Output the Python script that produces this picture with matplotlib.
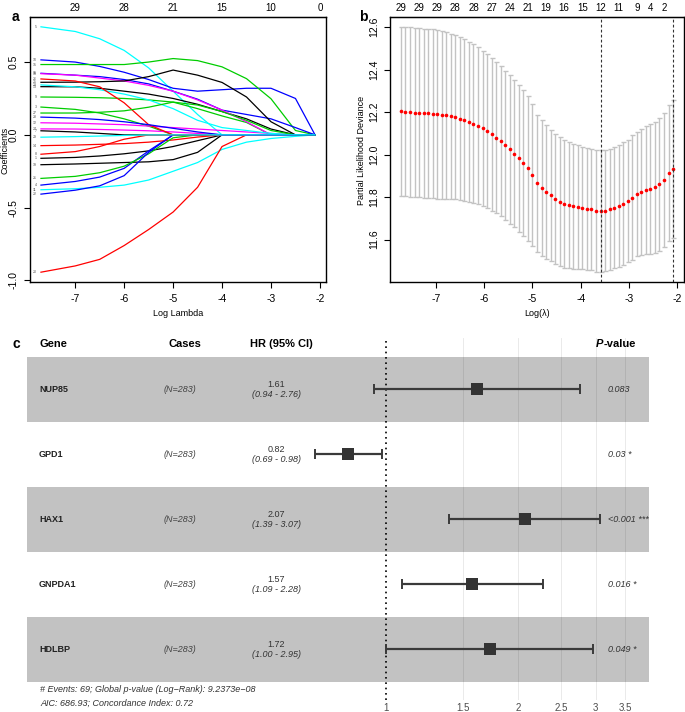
import numpy as np
import matplotlib.pyplot as plt
from matplotlib import transforms

plt.rcParams['font.family'] = ['Liberation Sans', 'DejaVu Sans']

W, H = 685, 712

# ---------------- panel a: lasso coefficient paths ----------------
knots = [-7.7, -7.0, -6.5, -6.0, -5.5, -5.0, -4.5, -4.0, -3.5, -3.0, -2.5, -2.1]
path_labels = [5, 10, 15, 16, 18, 26, 25, 23, 13, 9, 3, 27, 28, 12, 24, 7, 29,
               14, 8, 1, 19, 21, 4, 11, 22, 20]
coef_paths = [
    [0.742, 0.71, 0.66, 0.58, 0.46, 0.30, 0.14, 0.0, 0, 0, 0, 0],
    [0.515, 0.50, 0.47, 0.43, 0.38, 0.32, 0.30, 0.31, 0.32, 0.32, 0.25, 0.0],
    [0.483, 0.483, 0.483, 0.483, 0.50, 0.524, 0.51, 0.467, 0.386, 0.248, 0.03, 0.0],
    [0.423, 0.41, 0.40, 0.38, 0.35, 0.30, 0.245, 0.17, 0.14, 0.11, 0.05, 0.0],
    [0.42, 0.41, 0.39, 0.37, 0.34, 0.30, 0.24, 0.17, 0.09, 0.0, 0, 0],
    [0.384, 0.37, 0.33, 0.22, 0.07, 0.0, 0, 0, 0, 0, 0, 0],
    [0.361, 0.362, 0.365, 0.37, 0.40, 0.445, 0.41, 0.36, 0.26, 0.09, 0.0, 0],
    [0.343, 0.33, 0.31, 0.28, 0.24, 0.18, 0.10, 0.05, 0.03, 0.01, 0.0, 0],
    [0.331, 0.33, 0.32, 0.30, 0.28, 0.25, 0.21, 0.16, 0.11, 0.04, 0.0, 0],
    [0.26, 0.258, 0.255, 0.25, 0.24, 0.225, 0.18, 0.13, 0.085, 0.0, 0, 0],
    [0.191, 0.175, 0.15, 0.11, 0.06, 0.0, 0, 0, 0, 0, 0, 0],
    [0.15, 0.15, 0.155, 0.165, 0.19, 0.225, 0.205, 0.16, 0.10, 0.03, 0.0, 0],
    [0.122, 0.115, 0.105, 0.09, 0.07, 0.045, 0.02, 0.0, 0, 0, 0, 0],
    [0.083, 0.08, 0.075, 0.07, 0.06, 0.05, 0.04, 0.03, 0.02, 0.01, 0.0, 0],
    [0.041, 0.04, 0.037, 0.033, 0.028, 0.02, 0.01, 0.0, 0, 0, 0, 0],
    [0.028, 0.02, 0.01, 0.0, 0, 0, 0, 0, 0, 0, 0, 0],
    [-0.016, -0.012, -0.008, -0.004, 0.0, 0, 0, 0, 0, 0, 0, 0],
    [-0.074, -0.07, -0.065, -0.06, -0.05, -0.035, -0.015, 0.0, 0, 0, 0, 0],
    [-0.133, -0.115, -0.08, -0.03, 0.0, 0, 0, 0, 0, 0, 0, 0],
    [-0.161, -0.155, -0.145, -0.13, -0.11, -0.08, -0.04, 0.0, 0, 0, 0, 0],
    [-0.205, -0.20, -0.195, -0.19, -0.185, -0.17, -0.12, 0.0, 0, 0, 0, 0],
    [-0.299, -0.285, -0.26, -0.215, -0.13, -0.02, 0.0, 0, 0, 0, 0, 0],
    [-0.345, -0.32, -0.29, -0.23, -0.11, 0.0, 0, 0, 0, 0, 0, 0],
    [-0.377, -0.37, -0.36, -0.345, -0.31, -0.25, -0.19, -0.10, -0.05, -0.025, -0.01, 0.0],
    [-0.407, -0.38, -0.35, -0.28, -0.12, 0.0, 0, 0, 0, 0, 0, 0],
    [-0.943, -0.90, -0.855, -0.76, -0.65, -0.53, -0.36, -0.08, 0.0, 0, 0, 0],
]
a_ticks = [-7, -6, -5, -4, -3, -2]
a_top = [29, 28, 21, 15, 10, 0]

# ---------------- panel b: cross-validation curve ----------------
loglam = np.linspace(-7.72, -2.09, 61)   # glmnet lambda path (log-spaced)
cvm = [12.203, 12.202, 12.200, 12.198, 12.197, 12.195, 12.194, 12.192, 12.190, 12.187,
       12.184, 12.180, 12.175, 12.169, 12.162, 12.154, 12.145, 12.135, 12.124, 12.112,
       12.096, 12.080, 12.063, 12.044, 12.025, 12.005, 11.983, 11.959, 11.935, 11.903,
       11.865, 11.843, 11.825, 11.808, 11.792, 11.778, 11.769, 11.762, 11.757, 11.753,
       11.750, 11.745, 11.742, 11.737, 11.734, 11.737, 11.743, 11.751, 11.759, 11.770,
       11.781, 11.797, 11.814, 11.825, 11.833, 11.838, 11.846, 11.860, 11.882, 11.912,
       11.934]
cvsd = [0.398, 0.398, 0.398, 0.398, 0.398, 0.398, 0.398, 0.398, 0.397, 0.395,
        0.392, 0.389, 0.386, 0.383, 0.380, 0.376, 0.373, 0.369, 0.365, 0.361,
        0.359, 0.356, 0.354, 0.351, 0.350, 0.346, 0.345, 0.343, 0.340, 0.334,
        0.323, 0.321, 0.315, 0.310, 0.307, 0.304, 0.301, 0.296, 0.293, 0.290,
        0.287, 0.287, 0.285, 0.287, 0.287, 0.285, 0.285, 0.285, 0.287, 0.288,
        0.288, 0.293, 0.291, 0.296, 0.301, 0.306, 0.307, 0.312, 0.315, 0.320,
        0.324]
idx_min, idx_1se = 44, 60
top_idx = [0, 4, 8, 12, 16, 20, 24, 28, 32, 36, 40, 44, 48, 52, 55, 58]
top_nz = [29, 29, 29, 28, 28, 27, 24, 21, 19, 16, 15, 12, 11, 9, 4, 2]

# ---------------- panel c: forest plot ----------------
genes = ['NUP85', 'GPD1', 'HAX1', 'GNPDA1', 'HDLBP']
cases = [283, 283, 283, 283, 283]
hr = [1.61, 0.82, 2.07, 1.57, 1.72]
hr_lo = [0.94, 0.69, 1.39, 1.09, 1.00]
hr_hi = [2.76, 0.98, 3.07, 2.28, 2.95]
pvals = ['0.083', '0.03 *', '<0.001 ***', '0.016 *', '0.049 *']
hr_breaks = [1, 1.5, 2, 2.5, 3, 3.5]
foot = ['# Events: 69; Global p-value (Log\u2212Rank): 9.2373e\u221208',
        'AIC: 686.93; Concordance Index: 0.72']

r_cols = ['black', 'red', '#00CD00', 'blue', 'cyan', 'magenta']


def fx(px):
    return px / W


def fy(py):
    return 1 - py / H


def r_box(ax):
    for s in ax.spines.values():
        s.set_linewidth(1.0)
        s.set_color('black')
    ax.tick_params(axis='both', direction='out', length=4, width=0.8,
                   labelsize=7.5, colors='black')
    ax.tick_params(axis='x', pad=4.5)
    ax.tick_params(axis='y', pad=4, labelrotation=90)
    for lab in ax.get_yticklabels():
        lab.set_va('center')


fig = plt.figure(figsize=(W / 100, H / 100), dpi=100)

# ---- a ----
ax_a = fig.add_axes([fx(30), fy(282), fx(296), 265 / H])
order = np.argsort(path_labels)
for i in order:
    lab = path_labels[i]
    ax_a.plot(knots, coef_paths[i], color=r_cols[(lab - 1) % 6], lw=0.9)
    ax_a.annotate(str(lab), (knots[0], coef_paths[i][0]), xytext=(-3, 0),
                  textcoords='offset points', ha='right', va='center',
                  fontsize=2.6, color='#555555')
ax_a.margins(x=0.04, y=0.04)
ax_a.set_xticks(a_ticks)
ax_a.set_yticks([-1.0, -0.5, 0.0, 0.5])
ax_a.set_yticklabels(['-1.0', '-0.5', '0.0', '0.5'])
ax_a.set_xticklabels([str(t) for t in a_ticks])
r_box(ax_a)
top_a = ax_a.secondary_xaxis('top')
top_a.set_xticks(a_ticks)
top_a.set_xticklabels([str(v) for v in a_top])
top_a.tick_params(length=0, labelsize=7, pad=3)
fig.text(fx(178), fy(314), 'Log Lambda', ha='center', va='center', fontsize=6.5)
fig.text(fx(5), fy(150), 'Coefficients', ha='center', va='center',
         rotation=90, fontsize=6.5)
fig.text(fx(15), fy(17), 'a', ha='center', va='center', fontsize=10,
         fontweight='bold')

# ---- b ----
ax_b = fig.add_axes([fx(390), fy(282), fx(294), 265 / H])
cvm_arr = np.array(cvm)
ax_b.errorbar(loglam, cvm_arr, yerr=cvsd, fmt='none', ecolor='#C3C3C3',
              elinewidth=1.0, capsize=1.8, capthick=1.0)
ax_b.plot(loglam, cvm_arr, 'o', color='red', ms=2.6, mew=0)
ax_b.axvline(loglam[idx_min], color='#333333', lw=0.8, ls=(0, (2.5, 2)))
ax_b.axvline(loglam[idx_1se], color='#333333', lw=0.8, ls=(0, (2.5, 2)))
ax_b.margins(x=0.04, y=0.04)
ax_b.set_xticks(a_ticks)
ax_b.set_xticklabels([str(t) for t in a_ticks])
ax_b.set_yticks([11.6, 11.8, 12.0, 12.2, 12.4, 12.6])
ax_b.set_yticklabels(['11.6', '11.8', '12.0', '12.2', '12.4', '12.6'])
r_box(ax_b)
top_b = ax_b.secondary_xaxis('top')
top_b.set_xticks(loglam[top_idx])
top_b.set_xticklabels([str(v) for v in top_nz])
top_b.tick_params(length=0, labelsize=7, pad=3)
fig.text(fx(537), fy(314), 'Log(\u03bb)', ha='center', va='center', fontsize=6.5)
fig.text(fx(362), fy(150), 'Partial Likelihood Deviance', ha='center',
         va='center', rotation=90, fontsize=6.5)
fig.text(fx(363), fy(17), 'b', ha='center', va='center', fontsize=10,
         fontweight='bold')

# ---- c ----
ax_c = fig.add_axes([fx(27), fy(700), fx(622), 362 / H])
ax_c.set_xscale('log')
ax_c.set_xlim(0.1527, 3.963)
ax_c.set_ylim(4.78, -0.79)
for b in hr_breaks[1:]:
    ax_c.axvline(b, color='#E6E6E6', lw=0.6, zorder=0)
rows = np.arange(len(genes))
for r in rows[::2]:
    ax_c.axhspan(r - 0.5, r + 0.5, color='black', alpha=0.24, lw=0, zorder=1)
ax_c.axvline(1, color='black', lw=1.2, ls=(0, (1, 2.2)), zorder=2)
err = [np.array(hr) - np.array(hr_lo), np.array(hr_hi) - np.array(hr)]
ax_c.errorbar(hr, rows, xerr=err, fmt='none', ecolor='#3A3A3A', elinewidth=1.6,
              capsize=3.3, capthick=1.4, zorder=3)
ax_c.plot(hr, rows, 's', color='#333333', ms=8, mew=0, zorder=4)
ax_c.set_xticks(hr_breaks)
ax_c.set_xticklabels([f'{b:g}' for b in hr_breaks])
ax_c.xaxis.set_minor_locator(plt.NullLocator())
ax_c.tick_params(axis='x', length=0, labelsize=7, colors='#4D4D4D', pad=2)
ax_c.set_yticks([])
for s in ax_c.spines.values():
    s.set_visible(False)

tr = transforms.blended_transform_factory(fig.transFigure, ax_c.transData)
for r in rows:
    ax_c.text(fx(39), r, genes[r], transform=tr, ha='left', va='center',
              fontsize=6.5, fontweight='bold', color='#222222')
    ax_c.text(fx(164), r, f'(N={cases[r]})', transform=tr, ha='left',
              va='center', fontsize=6.5, style='italic', color='#444444')
    ax_c.text(fx(276), r - 0.075, f'{hr[r]:.2f}', transform=tr, ha='center',
              va='center', fontsize=6.5, color='#333333')
    ax_c.text(fx(276), r + 0.075, f'({hr_lo[r]:.2f} - {hr_hi[r]:.2f})',
              transform=tr, ha='center', va='center', fontsize=6.5,
              style='italic', color='#333333')
    ax_c.text(fx(608), r, pvals[r], transform=tr, ha='left', va='center',
              fontsize=6.5, style='italic', color='#333333')

hy = fy(344)
fig.text(fx(16), hy, 'c', ha='center', va='center', fontsize=10, fontweight='bold')
fig.text(fx(39), hy, 'Gene', ha='left', va='center', fontsize=8, fontweight='bold')
fig.text(fx(185), hy, 'Cases', ha='center', va='center', fontsize=8,
         fontweight='bold')
fig.text(fx(281), hy, 'HR (95% CI)', ha='center', va='center', fontsize=8,
         fontweight='bold')
# "P-value" with an italic P: place the two parts side by side
t_p = fig.text(fx(596), hy, 'P', ha='left', va='center', fontsize=8,
               fontweight='bold', style='italic')
renderer = fig.canvas.get_renderer()
p_right = t_p.get_window_extent(renderer).x1
fig.text(p_right / fig.bbox.width + 0.5 / W, hy, '-value', ha='left',
         va='center', fontsize=8, fontweight='bold')

fig.text(fx(40), fy(689), foot[0], ha='left', va='center', fontsize=6.5,
         style='italic', color='#333333')
fig.text(fx(40), fy(703), foot[1], ha='left', va='center', fontsize=6.5,
         style='italic', color='#333333')

fig.savefig('out.png', dpi=100)
